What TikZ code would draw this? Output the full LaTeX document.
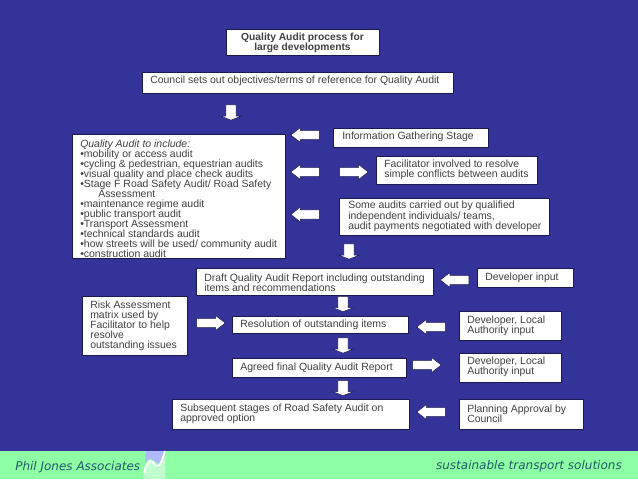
\documentclass[tikz,border=0pt]{standalone}
\usepackage{fontspec}
\setmainfont{Liberation Sans}
\newfontfamily\footfont{DejaVu Sans}
\usetikzlibrary{shapes.arrows}
\definecolor{bg}{HTML}{333399}
\definecolor{foot}{HTML}{8FFFA6}
\definecolor{inktext}{HTML}{404040}
\definecolor{edge}{HTML}{1A1A50}
\definecolor{foottext}{HTML}{1F5A6A}
\definecolor{wave}{HTML}{B0B8FF}
\tikzset{
  x=0.75pt,y=-0.75pt,
  boxtext/.style={font=\fontsize{7.85}{7.5}\selectfont,text=inktext,inner sep=0pt,align=left,anchor=west},
  sidearrow/.style={shape=single arrow,draw=edge,line width=0.4pt,fill=white,outer sep=0pt,
     inner xsep=0pt,inner ysep=3.2pt,single arrow head extend=2.2pt,single arrow tip angle=76,minimum height=21.5pt},
  downarrow/.style={shape=single arrow,draw=edge,line width=0.4pt,fill=white,outer sep=0pt,rotate=-90,
     inner xsep=0pt,inner ysep=3.6pt,single arrow head extend=4pt,single arrow tip angle=138,minimum height=11.5pt},
  footer/.style={font=\footfont\itshape\fontsize{9}{10}\selectfont,text=foottext,inner sep=0pt}
}
\newcommand{\whitebox}[5]{%
  \fill[white,draw=edge,line width=0.5pt] (#2,#3) rectangle (#4,#5);
  \coordinate (#1) at (#2,#3);}
\begin{document}
\begin{tikzpicture}
\useasboundingbox (0,0) rectangle (638,479);
\fill[bg] (0,0) rectangle (638,479);
\fill[foot] (0,451) rectangle (638,479);
% logo
\fill[foot!55!white] (143,479) -- (144,473) .. controls (146,466) and (148,461) .. (151,462) .. controls (154,463) and (155,469) .. (158,468) .. controls (162,467) and (164,458) .. (165,451) -- (165,479) -- cycle;
\fill[wave] (146,451) -- (166,451) .. controls (165,456) and (163,464) .. (160,464) .. controls (157,465) and (155,460) .. (151,459) .. controls (149,458) and (146,461) .. (145,464) -- cycle;
\draw[white,line width=1.5pt] (144,473) .. controls (146,466) and (148,461) .. (151,461) .. controls (154,462) and (155,467) .. (158,466) .. controls (161,465) and (163,458) .. (165,451);
\node[footer,anchor=west] (firm) at (15,467) {Phil Jones Associates};
\node[footer,anchor=east] (slogan) at (622,466) {sustainable transport solutions};
% boxes
\whitebox{bt}{226}{29}{379}{55}
\whitebox{bc}{142}{72}{453}{93}
\whitebox{bq}{72}{134}{285}{258}
\whitebox{bi}{333}{128}{488}{147}
\whitebox{bf}{376}{156}{537}{184}
\whitebox{bs}{339}{198}{549}{235}
\whitebox{bd}{196}{268}{433}{295}
\whitebox{bdi}{477}{268}{573}{287}
\whitebox{br}{82}{296}{187}{355}
\whitebox{bres}{232}{316}{408}{333}
\whitebox{bdl}{459}{311}{561}{340}
\whitebox{ba}{232}{358}{406}{377}
\whitebox{bdl2}{459}{353}{561}{382}
\whitebox{bsub}{172}{399}{409}{429}
\whitebox{bp}{459}{399}{583}{429}
% texts
\node[boxtext,anchor=center,align=center,font=\bfseries\fontsize{7.7}{7.5}\selectfont] (tt) at (302.5,43) {Quality Audit process for\\large developments};
\node[boxtext] (tc) at (150,80.5) {Council sets out objectives/terms of reference for Quality Audit};
\node[boxtext,font=\fontsize{7.85}{7.45}\selectfont,anchor=north west] (tq) at (80,140) {\itshape Quality Audit to include:\\•mobility or access audit\\•cycling \& pedestrian, equestrian audits\\•visual quality and place check audits\\•Stage F Road Safety Audit/ Road Safety\\\hspace*{13.5pt}Assessment\\•maintenance regime audit\\•public transport audit\\•Transport Assessment\\•technical standards audit\\•how streets will be used/ community audit\\•construction audit};
\node[boxtext] (ti) at (342,136.5) {Information Gathering Stage};
\node[boxtext] (tf) at (384,169.5) {Facilitator involved to resolve\\simple conflicts between audits};
\node[boxtext,font=\fontsize{7.85}{7.9}\selectfont] (ts) at (348,216.5) {Some audits carried out by qualified\\independent individuals/ teams,\\audit payments negotiated with developer};
\node[boxtext] (td) at (204,282.5) {Draft Quality Audit Report including outstanding\\items and recommendations};
\node[boxtext] (tdi) at (485,278) {Developer input};
\node[boxtext] (tr) at (90,326) {Risk Assessment\\matrix used by\\Facilitator to help\\resolve\\outstanding issues};
\node[boxtext] (tres) at (240,325) {Resolution of outstanding items};
\node[boxtext] (tdl) at (467,325.5) {Developer, Local\\Authority input};
\node[boxtext] (ta) at (240,367.5) {Agreed final Quality Audit Report};
\node[boxtext] (tdl2) at (467,367) {Developer, Local\\Authority input};
\node[boxtext] (tsub) at (180,414) {Subsequent stages of Road Safety Audit on\\approved option};
\node[boxtext] (tp) at (467,414) {Planning Approval by\\Council};
% arrows
\node[downarrow] (a1) at (231,111.5) {};
\node[sidearrow,rotate=180] (a2) at (308,135) {};
\node[sidearrow,rotate=180] (a3) at (308,172) {};
\node[sidearrow] (a4) at (351,172) {};
\node[sidearrow,rotate=180] (a5) at (308,214.5) {};
\node[downarrow] (a6) at (349,250.5) {};
\node[sidearrow,rotate=180] (a7) at (457.5,280) {};
\node[downarrow] (a8) at (343,303) {};
\node[sidearrow] (a9) at (208,323) {};
\node[sidearrow,rotate=180] (a10) at (434,327) {};
\node[downarrow] (a11) at (343,344.5) {};
\node[sidearrow] (a12) at (424,365) {};
\node[downarrow] (a13) at (343,387) {};
\node[sidearrow,rotate=180] (a14) at (434,412) {};
\end{tikzpicture}
\end{document}
